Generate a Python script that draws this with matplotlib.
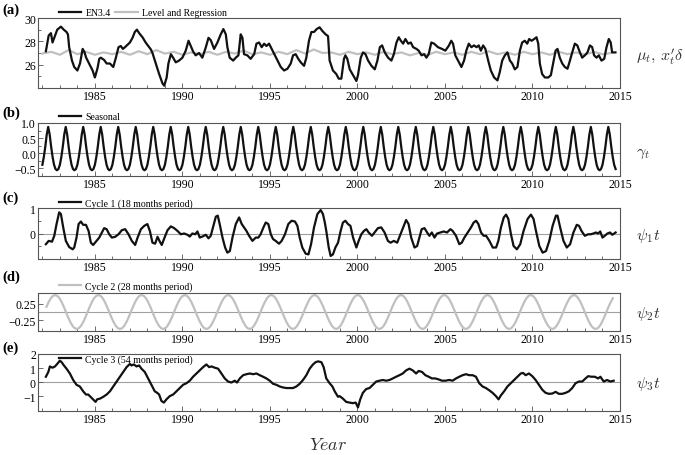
import numpy as np
import matplotlib
matplotlib.use('Agg')
import matplotlib.pyplot as plt
from matplotlib.ticker import MultipleLocator, FixedLocator, FuncFormatter

plt.rcParams['font.family'] = 'serif'
plt.rcParams['font.serif'] = ['Liberation Serif', 'DejaVu Serif']
plt.rcParams['mathtext.fontset'] = 'cm'

en_years = [1982.20, 1982.36, 1982.49, 1982.58, 1982.70, 1982.85, 1983.06, 1983.22, 1983.38, 1983.46,
            1983.53, 1983.69, 1983.82, 1984.00, 1984.15, 1984.30, 1984.40, 1984.50, 1984.70, 1984.87,
            1985.00, 1985.15, 1985.25, 1985.34, 1985.53, 1985.67, 1985.86, 1986.05, 1986.20, 1986.35,
            1986.48, 1986.60, 1986.72, 1986.86, 1987.00, 1987.15, 1987.28, 1987.40, 1987.53, 1987.72,
            1987.90, 1988.10, 1988.20, 1988.29, 1988.48, 1988.67, 1988.86, 1988.96, 1989.10, 1989.20,
            1989.34, 1989.47, 1989.62, 1989.81, 1990.00, 1990.19, 1990.35, 1990.48, 1990.62, 1990.76,
            1990.95, 1991.14, 1991.34, 1991.49, 1991.62, 1991.81, 1992.00, 1992.19, 1992.34, 1992.48,
            1992.57, 1992.70, 1992.90, 1993.05, 1993.20, 1993.33, 1993.43, 1993.52, 1993.71, 1993.90,
            1994.10, 1994.23, 1994.38, 1994.53, 1994.67, 1994.80, 1994.95, 1995.10, 1995.25, 1995.43,
            1995.62, 1995.81, 1996.00, 1996.19, 1996.32, 1996.47, 1996.62, 1996.76, 1996.95, 1997.08,
            1997.23, 1997.37, 1997.52, 1997.67, 1997.84, 1997.99, 1998.18, 1998.32, 1998.41, 1998.60,
            1998.79, 1998.93, 1999.08, 1999.23, 1999.31, 1999.42, 1999.56, 1999.75, 1999.94, 2000.03,
            2000.19, 2000.32, 2000.46, 2000.61, 2000.80, 2000.99, 2001.14, 2001.28, 2001.41, 2001.56,
            2001.75, 2001.94, 2002.08, 2002.23, 2002.36, 2002.48, 2002.61, 2002.74, 2002.90, 2003.05,
            2003.18, 2003.37, 2003.50, 2003.66, 2003.81, 2003.94, 2004.07, 2004.22, 2004.38, 2004.60,
            2004.83, 2005.02, 2005.21, 2005.36, 2005.46, 2005.59, 2005.75, 2005.94, 2006.09, 2006.22,
            2006.36, 2006.51, 2006.66, 2006.80, 2006.93, 2007.05, 2007.18, 2007.31, 2007.47, 2007.62,
            2007.81, 2008.00, 2008.13, 2008.27, 2008.42, 2008.57, 2008.71, 2008.84, 2008.99, 2009.14,
            2009.28, 2009.41, 2009.56, 2009.70, 2009.81, 2009.95, 2010.10, 2010.23, 2010.33, 2010.42,
            2010.55, 2010.71, 2010.90, 2011.05, 2011.18, 2011.32, 2011.43, 2011.56, 2011.70, 2011.85,
            2012.00, 2012.14, 2012.27, 2012.42, 2012.56, 2012.71, 2012.84, 2012.99, 2013.14, 2013.28,
            2013.41, 2013.52, 2013.66, 2013.79, 2013.94, 2014.10, 2014.23, 2014.36, 2014.47, 2014.55,
            2014.74]
en_vals = [27.15, 28.5, 28.7, 27.9, 28.4, 29.0, 29.26, 29.0, 28.8, 28.6,
           27.5, 26.35, 25.8, 25.5, 26.1, 27.35, 27.1, 26.6, 26.0, 25.5,
           24.9, 25.7, 26.5, 26.6, 26.4, 26.1, 26.1, 25.8, 26.6, 27.5,
           27.6, 27.35, 27.5, 27.7, 27.9, 28.3, 28.8, 29.0, 28.7, 28.35,
           27.9, 27.5, 27.3, 27.0, 26.1, 25.2, 24.4, 24.2, 24.9, 26.1,
           26.9, 26.6, 26.2, 26.35, 26.6, 27.2, 28.05, 27.6, 27.1, 26.8,
           27.0, 26.6, 27.5, 28.3, 28.1, 27.35, 27.9, 28.6, 29.05, 28.6,
           27.5, 26.6, 26.35, 26.6, 26.8, 28.6, 28.3, 26.9, 26.8, 26.5,
           26.9, 27.8, 27.9, 27.5, 27.8, 27.6, 27.8, 27.35, 26.9, 26.35,
           25.8, 25.5, 25.65, 26.1, 26.8, 26.9, 26.5, 26.2, 25.9, 26.6,
           28.05, 28.8, 28.8, 29.05, 29.2, 28.9, 28.6, 28.45, 26.35, 25.5,
           25.2, 24.8, 24.8, 26.5, 26.8, 26.5, 25.6, 25.1, 24.6, 25.1,
           26.6, 27.05, 26.9, 26.35, 25.9, 25.6, 26.35, 27.5, 27.65, 27.05,
           26.6, 26.35, 26.9, 27.9, 28.35, 28.05, 27.8, 28.2, 27.8, 27.9,
           27.5, 27.35, 27.2, 26.8, 26.9, 26.6, 26.9, 27.9, 27.8, 27.5,
           27.35, 27.2, 27.6, 28.05, 27.8, 26.8, 26.35, 25.8, 26.35, 27.2,
           27.8, 27.5, 27.65, 27.5, 27.65, 27.2, 27.65, 27.35, 26.35, 25.5,
           24.9, 24.65, 25.35, 26.35, 26.8, 27.05, 26.35, 26.1, 25.6, 25.8,
           27.2, 27.9, 28.05, 27.8, 28.2, 28.05, 28.2, 28.35, 27.8, 26.1,
           25.2, 24.9, 24.9, 25.1, 26.1, 27.2, 27.35, 26.6, 26.1, 25.8,
           25.65, 26.35, 27.05, 27.8, 27.65, 27.05, 26.6, 26.8, 27.05, 27.65,
           27.5, 26.8, 26.6, 26.8, 26.35, 26.5, 27.5, 28.2, 27.9, 27.05,
           27.05]

# level + regression, every half year from 1982.0
level_start = 1982.0
level_vals = [26.95, 27.1, 26.85, 27.25, 26.9, 27.1, 26.85, 27.05, 26.9, 27.1,
              26.85, 27.15, 26.9, 27.25, 26.95, 27.1, 26.85, 27.05, 26.9, 27.1,
              26.85, 27.1, 26.95, 27.2, 26.9, 27.05, 26.85, 27.1, 26.9, 27.25,
              26.95, 27.3, 27.0, 27.05, 26.85, 27.1, 26.9, 27.05, 26.85, 27.1,
              26.9, 27.05, 26.8, 27.0, 26.85, 27.1, 26.9, 27.05, 26.85, 27.1,
              26.9, 27.15, 26.9, 27.05, 26.85, 27.1, 26.9, 27.05, 26.85, 27.1,
              26.9, 27.05, 26.85, 27.1, 26.9, 27.0]

# ---- (b) seasonal: one yearly profile (Jan..Dec), same every year ----
season_profile = [-0.38, -0.12, 0.22, 0.62, 0.87, 0.62, 0.22, -0.12, -0.38, -0.52, -0.56, -0.52]
season_first_year = 1982
season_last = (2014, 10)   # last month shown

# ---- (c) cycle 1 ----
c1_years = [1982.20, 1982.36, 1982.55, 1982.68, 1982.81, 1982.96, 1983.06, 1983.19, 1983.34, 1983.53,
            1983.73, 1983.82, 1983.95, 1984.07, 1984.20, 1984.33, 1984.49, 1984.64, 1984.77, 1984.90,
            1985.06, 1985.25, 1985.40, 1985.53, 1985.67, 1985.82, 1985.97, 1986.16, 1986.35, 1986.54,
            1986.73, 1986.92, 1987.11, 1987.30, 1987.44, 1987.63, 1987.82, 1988.00, 1988.14, 1988.29,
            1988.44, 1988.58, 1988.71, 1988.82, 1988.98, 1989.15, 1989.34, 1989.53, 1989.72, 1989.91,
            1990.10, 1990.29, 1990.42, 1990.57, 1990.73, 1990.86, 1990.99, 1991.14, 1991.34, 1991.49,
            1991.62, 1991.75, 1991.91, 1992.02, 1992.13, 1992.29, 1992.44, 1992.57, 1992.71, 1992.86,
            1993.05, 1993.24, 1993.39, 1993.52, 1993.66, 1993.81, 1994.00, 1994.19, 1994.34, 1994.47,
            1994.63, 1994.76, 1994.91, 1995.05, 1995.18, 1995.33, 1995.52, 1995.67, 1995.86, 1996.05,
            1996.24, 1996.43, 1996.57, 1996.70, 1996.85, 1997.04, 1997.20, 1997.35, 1997.52, 1997.71,
            1997.90, 1998.03, 1998.13, 1998.22, 1998.36, 1998.47, 1998.60, 1998.74, 1998.89, 1999.04,
            1999.17, 1999.31, 1999.46, 1999.60, 1999.75, 1999.94, 2000.07, 2000.22, 2000.37, 2000.51,
            2000.64, 2000.83, 2000.98, 2001.17, 2001.36, 2001.55, 2001.74, 2001.89, 2002.08, 2002.27,
            2002.46, 2002.65, 2002.78, 2002.92, 2003.07, 2003.26, 2003.41, 2003.54, 2003.67, 2003.83,
            2003.98, 2004.11, 2004.25, 2004.40, 2004.55, 2004.74, 2004.93, 2005.12, 2005.31, 2005.44,
            2005.63, 2005.82, 2005.96, 2006.11, 2006.30, 2006.49, 2006.64, 2006.78, 2006.91, 2007.06,
            2007.21, 2007.35, 2007.54, 2007.73, 2007.92, 2008.05, 2008.20, 2008.36, 2008.49, 2008.62,
            2008.77, 2008.92, 2009.11, 2009.30, 2009.49, 2009.72, 2009.91, 2010.06, 2010.20, 2010.39,
            2010.58, 2010.77, 2010.96, 2011.15, 2011.34, 2011.43, 2011.58, 2011.77, 2011.96, 2012.15,
            2012.34, 2012.53, 2012.66, 2012.80, 2012.99, 2013.18, 2013.33, 2013.48, 2013.62, 2013.75,
            2013.87, 2014.00, 2014.13, 2014.28, 2014.43, 2014.56, 2014.75]
c1_vals = [-0.42, -0.29, -0.32, -0.09, 0.37, 0.83, 0.76, 0.24, -0.29, -0.53,
           -0.62, -0.55, -0.16, 0.37, 0.47, 0.34, 0.34, 0.10, -0.36, -0.45,
           -0.32, -0.16, 0.04, 0.21, 0.17, -0.03, -0.16, -0.13, -0.03, 0.13,
           0.17, -0.03, -0.29, -0.45, -0.16, 0.17, 0.30, 0.37, 0.10, -0.36,
           -0.40, -0.13, -0.32, -0.45, -0.16, 0.13, 0.28, 0.21, 0.10, -0.03,
           0.00, -0.05, -0.12, 0.00, -0.03, 0.08, -0.16, -0.12, -0.05, -0.19,
           -0.09, 0.24, 0.66, 0.70, 0.37, -0.16, -0.55, -0.75, -0.69, -0.16,
           0.37, 0.63, 0.37, 0.24, 0.10, -0.09, -0.29, -0.16, -0.16, -0.03,
           0.24, 0.43, 0.37, -0.03, -0.22, -0.29, -0.40, -0.29, -0.03, 0.37,
           0.50, 0.47, 0.30, -0.16, -0.55, -0.79, -0.82, -0.42, 0.24, 0.76,
           0.92, 0.76, 0.45, 0.10, -0.55, -0.88, -0.82, -0.55, -0.36, 0.10,
           0.43, 0.50, 0.37, 0.30, -0.16, -0.55, -0.29, -0.03, 0.10, 0.17,
           0.04, -0.09, 0.04, 0.21, 0.24, 0.04, -0.29, -0.36, -0.29, -0.36,
           -0.03, 0.30, 0.53, 0.37, -0.16, -0.55, -0.49, -0.16, 0.17, 0.21,
           0.04, -0.09, 0.04, -0.16, 0.00, 0.04, 0.08, 0.04, 0.17, 0.10,
           -0.09, -0.42, -0.36, -0.16, 0.04, 0.24, 0.43, 0.50, 0.37, 0.04,
           -0.09, -0.09, -0.29, -0.55, -0.55, -0.29, 0.24, 0.63, 0.74, 0.57,
           -0.03, -0.49, -0.62, -0.42, 0.10, 0.57, 0.74, 0.57, 0.10, -0.49,
           -0.75, -0.69, -0.29, 0.30, 0.70, 0.70, 0.24, -0.29, -0.55, -0.42,
           0.04, 0.34, 0.30, 0.10, -0.09, -0.03, -0.03, 0.00, 0.04, 0.00,
           0.08, -0.16, -0.09, 0.00, 0.04, -0.05, 0.04]

c2_profile = [0.5, 0.476, 0.405, 0.294, 0.155, 0.0, -0.155, -0.294, -0.405, -0.476,
              -0.5, -0.476, -0.405, -0.294, -0.155, 0.0, 0.155, 0.294, 0.405, 0.476]
c2_first_peak = 1982.73
c2_period = 2.47   # years between peaks, measured on the picture
c2_span = (1982.2, 2014.7)

# ---- (e) cycle 3 ----
c3_years = [1982.20, 1982.34, 1982.43, 1982.58, 1982.72, 1982.85, 1983.00, 1983.10, 1983.23, 1983.38,
            1983.57, 1983.76, 1983.95, 1984.14, 1984.33, 1984.49, 1984.62, 1984.75, 1984.90, 1985.04,
            1985.13, 1985.29, 1985.48, 1985.67, 1985.86, 1986.05, 1986.24, 1986.43, 1986.62, 1986.81,
            1987.00, 1987.09, 1987.23, 1987.38, 1987.53, 1987.66, 1987.85, 1988.04, 1988.23, 1988.42,
            1988.56, 1988.67, 1988.80, 1988.94, 1989.09, 1989.28, 1989.47, 1989.66, 1989.85, 1990.04,
            1990.23, 1990.42, 1990.61, 1990.80, 1990.99, 1991.18, 1991.37, 1991.53, 1991.66, 1991.85,
            1992.04, 1992.23, 1992.42, 1992.61, 1992.80, 1992.99, 1993.12, 1993.28, 1993.47, 1993.66,
            1993.85, 1994.04, 1994.23, 1994.42, 1994.61, 1994.80, 1994.99, 1995.18, 1995.37, 1995.56,
            1995.75, 1995.94, 1996.13, 1996.32, 1996.51, 1996.70, 1996.89, 1997.08, 1997.27, 1997.46,
            1997.61, 1997.75, 1997.94, 1998.07, 1998.22, 1998.41, 1998.57, 1998.70, 1998.89, 1998.98,
            1999.17, 1999.36, 1999.55, 1999.74, 1999.90, 2000.03, 2000.16, 2000.31, 2000.50, 2000.69,
            2000.88, 2001.07, 2001.26, 2001.45, 2001.64, 2001.83, 2002.02, 2002.21, 2002.40, 2002.59,
            2002.78, 2002.97, 2003.16, 2003.35, 2003.50, 2003.69, 2003.88, 2004.07, 2004.26, 2004.45,
            2004.64, 2004.83, 2005.02, 2005.25, 2005.44, 2005.63, 2005.82, 2006.01, 2006.20, 2006.39,
            2006.58, 2006.77, 2006.96, 2007.15, 2007.34, 2007.53, 2007.72, 2007.91, 2008.06, 2008.19,
            2008.38, 2008.57, 2008.76, 2008.95, 2009.14, 2009.33, 2009.46, 2009.61, 2009.80, 2009.99,
            2010.18, 2010.37, 2010.56, 2010.75, 2010.94, 2011.13, 2011.32, 2011.51, 2011.70, 2011.89,
            2012.08, 2012.27, 2012.46, 2012.65, 2012.84, 2013.03, 2013.18, 2013.37, 2013.56, 2013.75,
            2013.88, 2014.07, 2014.26, 2014.45, 2014.64]
c3_vals = [0.39, 0.73, 1.12, 1.03, 1.12, 1.30, 1.53, 1.42, 1.19, 0.96,
           0.62, 0.16, -0.18, -0.30, -0.64, -0.87, -0.87, -1.03, -1.21, -1.39,
           -1.21, -1.16, -1.03, -0.87, -0.64, -0.30, 0.05, 0.39, 0.73, 1.07,
           1.30, 1.19, 1.26, 1.12, 1.19, 0.96, 0.73, 0.27, -0.18, -0.64,
           -0.75, -0.87, -1.32, -1.44, -1.21, -0.98, -0.87, -0.64, -0.41, -0.18,
           -0.07, 0.11, 0.39, 0.62, 0.84, 1.07, 1.26, 1.07, 1.12, 1.03,
           0.96, 0.62, 0.27, 0.05, -0.02, 0.11, -0.02, 0.27, 0.50, 0.57,
           0.62, 0.57, 0.62, 0.50, 0.39, 0.27, 0.11, -0.11, -0.18, -0.30,
           -0.37, -0.41, -0.41, -0.41, -0.30, -0.11, 0.16, 0.50, 0.96, 1.26,
           1.42, 1.48, 1.42, 1.07, 0.27, -0.07, -0.30, -0.64, -1.03, -0.98,
           -1.16, -1.39, -1.44, -1.48, -1.44, -1.78, -1.21, -0.75, -0.48, -0.41,
           -0.18, 0.05, 0.11, 0.16, 0.11, 0.16, 0.27, 0.39, 0.50, 0.62,
           0.84, 0.96, 0.84, 0.62, 0.80, 0.73, 0.50, 0.39, 0.27, 0.27,
           0.20, 0.11, 0.11, 0.16, 0.11, 0.27, 0.39, 0.50, 0.57, 0.50,
           0.50, 0.39, -0.07, -0.30, -0.41, -0.57, -0.75, -0.98, -1.21, -0.94,
           -0.64, -0.30, -0.07, 0.16, 0.39, 0.62, 0.66, 0.50, 0.62, 0.43,
           0.16, -0.18, -0.53, -0.75, -0.82, -0.80, -0.68, -0.82, -0.82, -0.75,
           -0.64, -0.41, -0.07, 0.05, 0.05, 0.27, 0.43, 0.39, 0.39, 0.27,
           0.39, 0.05, 0.16, 0.05, 0.11]

# ---- build the periodic series from their read profiles ----
season_t, season_v = [], []
for yr in range(season_first_year, season_last[0] + 1):
    for m, v in enumerate(season_profile):
        if (yr, m + 1) > season_last:
            break
        season_t.append(yr + m / 12)
        season_v.append(v)

n_prof = len(c2_profile)
c2_t, c2_v = [], []
k = -n_prof
while True:
    t = c2_first_peak + k * c2_period / n_prof
    if t > c2_span[1]:
        break
    if t >= c2_span[0]:
        c2_t.append(t)
        c2_v.append(c2_profile[k % n_prof])
    k += 1

level_t = [level_start + 0.5 * i for i in range(len(level_vals))]

# ---- figure ----
W, H = 685, 456
fig = plt.figure(figsize=(W / 100, H / 100), dpi=100)

def box(top, bottom, left=38, right=620):
    return [left / W, 1 - bottom / H, (right - left) / W, (bottom - top) / H]

def minus_fmt(fmt):
    return FuncFormatter(lambda v, pos: (fmt % v).replace('-', '\u2212'))

black = '#111111'
grey = '#c0c0c0'
zero_c = '#a0a0a0'
frame_c = '#555555'

panels = [
    dict(pos=box(19, 89), ylim=(24, 30), major=[26, 28, 30], minor=[25, 27, 29], fmt='%d'),
    dict(pos=box(124, 177), ylim=(-0.75, 1.0), major=[-0.5, 0.0, 0.5, 1.0], minor=[-0.75, -0.25, 0.25, 0.75], fmt='%.1f'),
    dict(pos=box(209, 260), ylim=(-1, 1), major=[0, 1], minor=[-0.5, 0.5], fmt='%d'),
    dict(pos=box(294, 332), ylim=(-0.56, 0.56), major=[-0.25, 0.25], minor=[], fmt='%.2f'),
    dict(pos=box(355, 411.5), ylim=(-2, 2), major=[-1, 0, 1, 2], minor=[], fmt='%d'),
]

axes = []
for p in panels:
    ax = fig.add_axes(p['pos'])
    ax.set_xlim(1981.75, 2015)
    ax.set_ylim(*p['ylim'])
    ax.set_yticks(p['major'])
    ax.yaxis.set_minor_locator(FixedLocator(p['minor']))
    ax.yaxis.set_major_formatter(minus_fmt(p['fmt']))
    ax.xaxis.set_major_locator(FixedLocator([1985, 1990, 1995, 2000, 2005, 2010, 2015]))
    ax.xaxis.set_minor_locator(MultipleLocator(1))
    ax.tick_params(which='both', direction='in', width=0.6, color=frame_c, labelsize=8.5, pad=1.5)
    ax.tick_params(which='major', length=3.5)
    ax.tick_params(which='minor', length=2)
    for s in ax.spines.values():
        s.set_color(frame_c)
        s.set_linewidth(0.8)
    axes.append(ax)

ax_a, ax_b, ax_c, ax_d, ax_e = axes

for ax in axes[1:]:
    ax.axhline(0, color=zero_c, lw=0.8, zorder=1)

ax_a.plot(en_years, en_vals, color=black, lw=1.6, label='EN3.4', zorder=3)
ax_a.plot(level_t, level_vals, color=grey, lw=1.6, label='Level and Regression', zorder=2)
ax_b.plot(season_t, season_v, color=black, lw=1.6, label='Seasonal')
ax_c.plot(c1_years, c1_vals, color=black, lw=1.6, label='Cycle 1 (18 months period)')
ax_d.plot(c2_t, c2_v, color=grey, lw=1.6, label='Cycle 2 (28 months period)')
ax_e.plot(c3_years, c3_vals, color=black, lw=1.6, label='Cycle 3 (54 months period)')

leg_y = [14, 118, 204, 287, 360]
for ax, y in zip(axes, leg_y):
    ax.legend(loc='center left', bbox_to_anchor=(59 / W, 1 - y / H), bbox_transform=fig.transFigure,
              frameon=False, fontsize=7, handlelength=2.3, handletextpad=0.4, borderpad=0,
              borderaxespad=0, ncol=2, columnspacing=0.5)

for lab, y in zip(['(a)', '(b)', '(c)', '(d)', '(e)'], [10, 113, 198, 277, 348]):
    fig.text(2 / W, 1 - y / H, lab, fontsize=10.5, fontweight='bold', va='center', ha='left')

right_labels = [r"$\mu_t,\,x^{\prime}_{t}\delta$", r"$\gamma_t$", r"$\psi_1 t$", r"$\psi_2 t$", r"$\psi_3 t$"]
for lab, y in zip(right_labels, [56, 153, 236, 314, 384]):
    fig.text(636 / W, 1 - y / H, lab, fontsize=11.5, va='center', ha='left', color='#333333')

fig.text(328 / W, 1 - 446 / H, r'$Year$', fontsize=13, ha='center', va='center', color='#333333')

fig.savefig('out.png', dpi=100)
